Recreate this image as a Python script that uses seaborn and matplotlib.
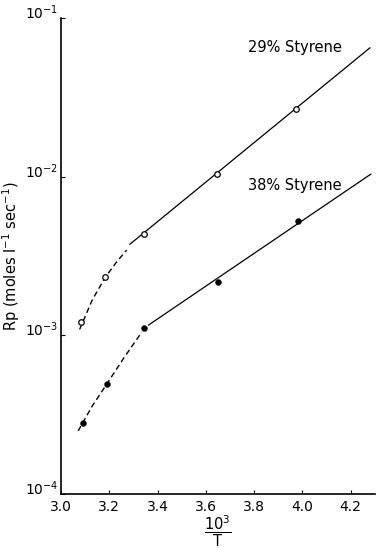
import numpy as np
import pandas as pd
import matplotlib
matplotlib.use('Agg')
import matplotlib.pyplot as plt
import matplotlib.transforms as mtransforms
import seaborn as sns

# measured points (10^3/T, Rp)
x29 = [3.081, 3.184, 3.342, 3.645, 3.975]
y29 = [1.21e-3, 2.33e-3, 4.36e-3, 1.04e-2, 2.67e-2]
x38 = [3.091, 3.191, 3.345, 3.652, 3.981]
y38 = [2.79e-4, 4.97e-4, 1.11e-3, 2.16e-3, 5.28e-3]

# drawn curves
dash29_x = [3.077, 3.13, 3.184, 3.23, 3.272]
dash29_y = [1.09e-3, 1.68e-3, 2.33e-3, 2.9e-3, 3.45e-3]
solid29_x = [3.285, 4.28]
solid29_y = [3.75e-3, 6.5e-2]

dash38_x = [3.071, 3.13, 3.191, 3.26, 3.335]
dash38_y = [2.5e-4, 3.6e-4, 4.97e-4, 7.2e-4, 1.05e-3]
solid38_x = [3.362, 4.284]
solid38_y = [1.16e-3, 1.04e-2]

sns.set_style('ticks')
plt.rcParams['font.family'] = ['DejaVu Sans']
plt.rcParams['text.color'] = 'black'
plt.rcParams['axes.labelcolor'] = 'black'

fig = plt.figure(figsize=(3.79, 5.48), dpi=100)
ax = fig.add_axes([0.161, 0.0985, 0.828, 0.8685])

dash_style = (0, (4, 2.5))
sns.lineplot(x=dash29_x, y=dash29_y, ax=ax, color='black', lw=1.0,
             sort=False, estimator=None, linestyle=dash_style)
sns.lineplot(x=solid29_x, y=solid29_y, ax=ax, color='black', lw=0.9,
             sort=False, estimator=None)
sns.lineplot(x=dash38_x, y=dash38_y, ax=ax, color='black', lw=1.0,
             sort=False, estimator=None, linestyle=dash_style)
sns.lineplot(x=solid38_x, y=solid38_y, ax=ax, color='black', lw=0.9,
             sort=False, estimator=None)

sns.scatterplot(x=x29, y=y29, ax=ax, marker='o', s=16, facecolor='white',
                edgecolor='black', linewidth=0.9, zorder=5)
sns.scatterplot(x=x38, y=y38, ax=ax, marker='o', s=18, color='black',
                edgecolor='black', zorder=5)

ax.set_yscale('log')
ax.set_ylim(1e-4, 1e-1)
ax.set_xlim(3.0, 4.3)
ax.set_xticks([3.0, 3.2, 3.4, 3.6, 3.8, 4.0, 4.2])
ax.set_xticklabels(['3.0', '3.2', '3.4', '3.6', '3.8', '4.0', '4.2'])
ax.minorticks_off()
ax.tick_params(direction='in', length=3, width=0.8, labelsize=10, colors='black')
ax.tick_params(axis='x', pad=4)
ax.tick_params(axis='y', pad=2)
for s in ['top', 'right']:
    ax.spines[s].set_visible(False)
for s in ['left', 'bottom']:
    ax.spines[s].set_linewidth(1.2)
    ax.spines[s].set_color('black')

# y tick labels sit a little above their ticks in the original
shift = mtransforms.ScaledTranslation(0, 5 / 72, fig.dpi_scale_trans)
for lab in ax.get_yticklabels():
    lab.set_transform(lab.get_transform() + shift)

ax.set_xlabel(r'$\dfrac{10^3}{\mathrm{T}}$', fontsize=10.5, labelpad=0)
ax.set_ylabel(r'Rp (moles l$^{-1}$ sec$^{-1}$)', fontsize=10.5, labelpad=2)

ax.text(3.775, 6.5e-2, '29% Styrene', fontsize=10.5, va='center', ha='left')
ax.text(3.775, 8.8e-3, '38% Styrene', fontsize=10.5, va='center', ha='left')

fig.savefig('out.png', dpi=100)
